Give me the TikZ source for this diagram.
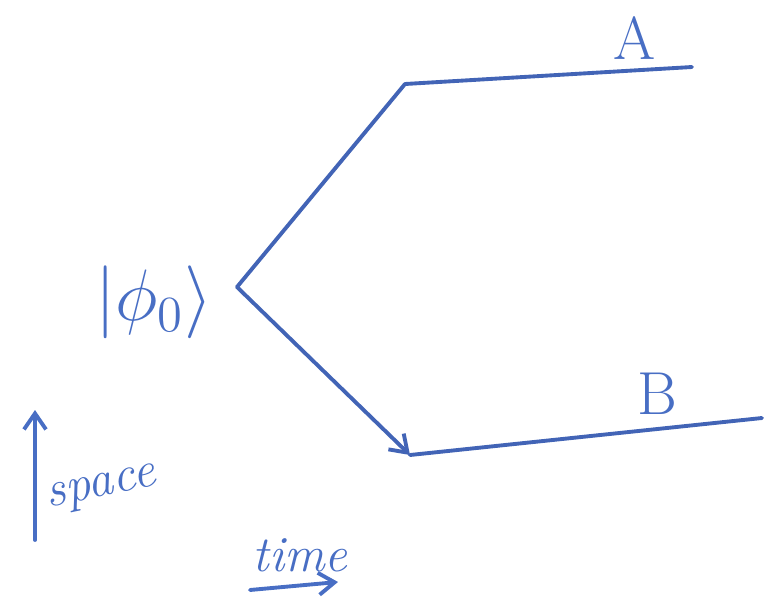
\documentclass[tikz,border=0pt]{standalone}
\usepackage{amsmath,amssymb}
\usepackage{tikz}
\usetikzlibrary{arrows.meta,calc,positioning}
\definecolor{penblue}{RGB}{72,110,196}
\definecolor{inkblue}{RGB}{66,100,182}
\tikzset{
  wire/.style={inkblue,line width=1.1pt,line join=round,line cap=round},
  flow/.style={wire,-{Straight Barb[length=1.6mm,width=2.2mm]}},
  lab/.style={text=penblue,font=\LARGE},
  note/.style={text=penblue,font=\Large\itshape},
}
\begin{document}
\begin{tikzpicture}[x=1cm,y=1cm]
  \path[use as bounding box] (0,0) rectangle (7.64,6.02);

  % source state and branching point
  \node[text=penblue,font=\fontsize{21}{26}\selectfont] (PSI) at (1.54,3.0) {$|\phi_0\rangle$};
  \coordinate (SPLIT) at (2.37,3.15);
  \coordinate (UPK) at (4.05,5.18);
  \coordinate (AEND) at (6.92,5.35);
  \coordinate (DNK) at (4.10,1.47);
  \coordinate (BEND) at (7.62,1.84);

  % the two branches
  \draw[wire] (SPLIT) -- (UPK) -- (AEND);
  \draw[flow] (SPLIT) -- (DNK);
  \draw[wire] (DNK) -- (BEND);
  \node[lab] (LA) at (6.35,5.64) {A};
  \node[lab] (LB) at (6.57,2.08) {B};

  % axes
  \coordinate (SPLO) at (0.35,0.62);
  \coordinate (SPHI) at (0.35,1.92);
  \draw[flow,penblue] (SPLO) -- (SPHI);
  \node[note,rotate=12] (SPACE) at (1.02,1.12) {space};
  \node[note] (TIME) at (3.0,0.47) {time};
  \coordinate (TLO) at (2.50,0.12);
  \coordinate (THI) at (3.38,0.2);
  \draw[flow,penblue] (TLO) -- (THI);
\end{tikzpicture}
\end{document}
